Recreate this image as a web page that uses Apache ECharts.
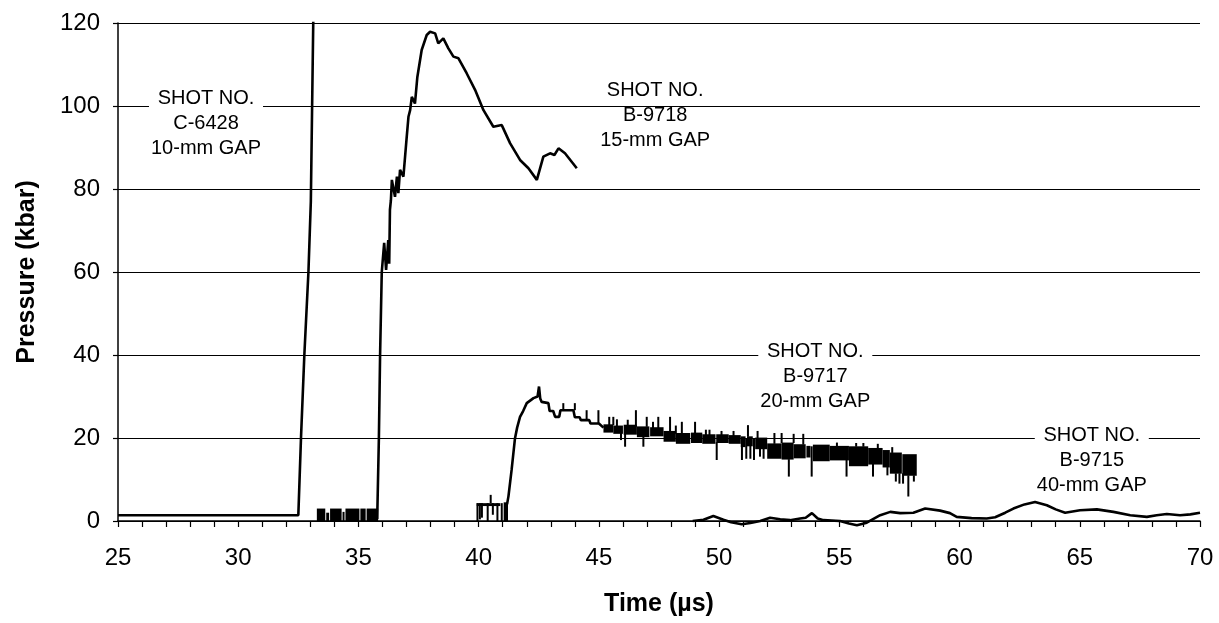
<!DOCTYPE html>
<html lang="en">
<head>
<meta charset="utf-8">
<title>Pressure records</title>
<script src="https://cdn.jsdelivr.net/npm/echarts@6/dist/echarts.min.js"></script>
<style>
  html, body { margin: 0; background: #fff; }
  #main { width: 1219px; height: 623px; }
</style>
</head>
<body>
<div id="main"></div>
<script>
// gauge records: [time (us), pressure (kbar)]
var shotC6428 = [[25, 1.4], [32.5, 1.4], [32.61, 19.9], [32.75, 40], [32.92, 60], [33.02, 77], [33.12, 120], [33.14, 126]];

var shotB9718 = [[35.78, 0.5], [35.85, 20], [35.9, 40], [35.97, 60], [36.07, 67], [36.15, 60.5], [36.24, 67.7],
    [36.28, 62], [36.31, 75], [36.35, 77.3], [36.39, 82.2], [36.52, 78.1], [36.6, 83], [36.66, 79], [36.73, 84.6],
    [36.87, 83], [37.0, 92], [37.08, 97.4], [37.15, 99], [37.22, 102.2], [37.35, 100.6], [37.45, 107], [37.63, 113.5],
    [37.84, 117.1], [37.98, 117.9], [38.19, 117.5], [38.32, 115.1], [38.53, 116.3], [38.74, 113.9], [38.95, 111.9],
    [39.16, 111.5], [39.5, 107.9], [39.85, 103.9], [40.2, 99], [40.61, 95], [40.96, 95.4], [41.31, 91], [41.72, 87],
    [42.07, 85], [42.42, 82.2], [42.69, 87.8], [42.97, 88.6], [43.15, 88.2], [43.32, 89.8], [43.59, 88.6], [44.08, 85]];

var shotB9717 = [[41.18, 4], [41.24, 6], [41.37, 12.3], [41.51, 19.9], [41.6, 22.5], [41.72, 25.1], [41.85, 26.5],
    [42.0, 28.4], [42.28, 29.6], [42.45, 30], [42.51, 32.4], [42.56, 29.5], [42.62, 28.7], [42.9, 28.4], [42.95, 26.5],
    [43.1, 26.5], [43.18, 25.1], [43.35, 25.1], [43.4, 26.7], [43.94, 26.7], [44.0, 25], [44.2, 25], [44.25, 24.3],
    [44.6, 24.3], [44.65, 23.5], [45.0, 23.5], [45.19, 22.5]];

var shotB9715 = [[48.9, 0], [49.35, 0.3], [49.76, 1.2], [50.18, 0.3], [50.5, -0.3], [50.94, -0.8], [51.3, -0.5],
    [51.71, 0], [52.12, 0.8], [52.54, 0.4], [52.95, 0.2], [53.37, 0.6], [53.6, 0.8], [53.86, 1.9], [54.1, 0.6],
    [54.34, 0.2], [55.03, 0], [55.4, -0.6], [55.73, -1.0], [56.14, -0.4], [56.7, 1.4], [57.12, 2.2], [57.53, 1.9],
    [58.08, 2.0], [58.57, 3.0], [59.19, 2.5], [59.6, 1.9], [59.88, 1.0], [60.5, 0.7], [61.13, 0.6], [61.48, 0.9],
    [61.9, 2.0], [62.24, 3.0], [62.7, 4.0], [63.14, 4.6], [63.63, 3.8], [64.0, 2.8], [64.39, 2.0], [65.01, 2.6],
    [65.71, 2.8], [66.4, 2.2], [67.1, 1.4], [67.79, 1.0], [68.2, 1.4], [68.62, 1.7], [69.17, 1.4], [69.6, 1.6], [70.0, 2.0]];

// noisy stretches of the records: [t start, t end, low, high]
var noiseBlocks = [
    // B-9718 before arrival
    [33.27, 33.62, 0, 3.0], [33.66, 33.78, 0, 2.0], [33.82, 34.3, 0, 3.0], [34.34, 34.42, 0, 2.2],
    [34.46, 35.04, 0, 3.0], [35.08, 35.3, 0, 3.0], [35.34, 35.82, 0, 3.0],
    // B-9717 before arrival
    [39.92, 40.9, 3.6, 4.3], [39.92, 39.98, 0, 4.3], [40.03, 40.07, 0.4, 4.3], [40.12, 40.15, 0.8, 4.3],
    [40.34, 40.41, 0, 4.3], [40.5, 40.5, 4.3, 6.3], [40.58, 40.6, 1.5, 4.3], [40.74, 40.82, 0, 4.3],
    [40.92, 41.0, 0, 4.3], [41.04, 41.22, 0, 4.5],
    // B-9717 plateau
    [45.19, 45.6, 21.3, 23.3], [45.6, 46.0, 21.0, 23.0], [46.03, 46.58, 20.8, 23.2], [46.58, 47.1, 20.2, 22.8],
    [47.13, 47.69, 20.4, 22.6], [47.69, 48.2, 19.1, 21.7], [48.2, 48.8, 18.6, 21.2], [48.83, 49.3, 18.8, 21.3],
    [49.3, 49.85, 18.6, 20.9], [49.88, 50.4, 18.8, 20.9], [50.4, 50.9, 18.6, 20.7], [50.9, 51.1, 17.8, 20.4],
    [51.16, 51.4, 18.0, 20.4], [51.5, 52.0, 17.3, 20.1], [52.0, 52.6, 15.0, 18.7], [52.6, 53.1, 14.8, 18.9],
    [53.1, 53.6, 15.1, 18.5], [53.63, 53.8, 15.3, 18.1], [53.9, 54.6, 14.4, 18.4], [54.6, 55.4, 14.6, 18.1],
    [55.4, 56.2, 13.2, 18.0], [56.2, 56.8, 13.6, 17.6], [56.8, 57.1, 12.9, 17.1], [57.1, 57.6, 11.4, 16.5],
    [57.62, 58.22, 10.9, 16.1]
];

// single spikes on the B-9717 record: [t, t, low, high]
var noiseSpikes = [
    [43.52, 43.52, 26.7, 28.4], [44.0, 44.0, 26.7, 28.4], [44.49, 44.49, 24.3, 26.7], [44.98, 44.98, 23.5, 26.7],
    [45.43, 45.43, 23.1, 25.1], [45.6, 45.6, 23.1, 25.1], [45.75, 45.75, 22.8, 24.5], [46.2, 46.2, 23.1, 24.4],
    [46.54, 46.54, 22.7, 26.7], [46.99, 46.99, 22.7, 25.1], [47.25, 47.25, 22.4, 23.9], [47.47, 47.47, 22.4, 25.1],
    [47.96, 47.96, 21.5, 25.1], [48.2, 48.2, 21.0, 23.0], [48.45, 48.45, 21.0, 23.9], [49.0, 49.0, 21.2, 23.9],
    [49.45, 49.45, 20.7, 22.0], [49.6, 49.6, 20.7, 22.0], [50.1, 50.1, 20.7, 21.7], [50.6, 50.6, 20.5, 21.7],
    [51.2, 51.2, 20.3, 23.1], [51.6, 51.6, 20.0, 21.7], [52.3, 52.3, 18.6, 21.2], [52.6, 52.6, 18.8, 21.2],
    [53.1, 53.1, 18.8, 21.0], [53.5, 53.5, 18.4, 21.0], [54.9, 54.9, 18.0, 18.9], [55.7, 55.7, 17.9, 18.8],
    [56.0, 56.0, 17.9, 18.8], [56.6, 56.6, 17.5, 18.6], [57.2, 57.2, 16.4, 17.8],
    [45.92, 45.92, 19.5, 21.2], [46.09, 46.09, 17.9, 21.0], [46.85, 46.85, 17.9, 20.3], [49.9, 49.9, 14.7, 19.0],
    [50.95, 50.95, 14.7, 18.0], [51.13, 51.13, 15.0, 20.0], [51.3, 51.3, 15.0, 18.2], [51.45, 51.45, 14.7, 20.0],
    [51.7, 51.7, 15.5, 17.5], [51.85, 51.85, 15.0, 17.5], [52.9, 52.9, 10.7, 14.9], [53.85, 53.85, 10.7, 18.0],
    [55.3, 55.3, 10.7, 14.8], [56.4, 56.4, 10.7, 13.8], [57.0, 57.0, 11.0, 13.0], [57.35, 57.35, 9.5, 11.5],
    [57.5, 57.5, 9.0, 11.5], [57.65, 57.65, 9.0, 11.5], [57.87, 57.87, 5.9, 11.0], [58.1, 58.1, 9.5, 11.0]
];

var noteX = [28.66, 47.34, 54.0, 65.5];
var noteY = [95.9, 97.8, 34.9, 14.7];
var noteText = ['SHOT NO.\nC-6428\n10-mm GAP', 'SHOT NO.\nB-9718\n15-mm GAP',
    'SHOT NO.\nB-9717\n20-mm GAP', 'SHOT NO.\nB-9715\n40-mm GAP'];

var font = 'Liberation Sans, Arial, sans-serif';
// the B-9718 note sits clear of the gridline, the others blank it out under "SHOT NO."
var noteFill = ['#fff', 'transparent', '#fff', '#fff'];

function drawBlock(params, api) {
    var a = api.coord([api.value(0), api.value(3)]);
    var b = api.coord([api.value(1), api.value(2)]);
    var x = a[0], w = b[0] - a[0];
    if (w < 2) { x = (a[0] + b[0]) / 2 - 1; w = 2; }
    return {
        type: 'rect',
        shape: { x: x, y: a[1], width: w, height: b[1] - a[1] },
        style: { fill: '#000' }
    };
}

function trace(data, clip) {
    return {
        type: 'line',
        data: data,
        symbol: 'none',
        clip: clip,
        lineStyle: { color: '#000', width: 2.6 },
        z: 3
    };
}

var myChart = echarts.init(document.getElementById('main'));

myChart.setOption({
    animation: false,
    backgroundColor: '#fff',
    grid: { left: 118, right: 19, top: 23, bottom: 102 },
    xAxis: {
        type: 'value',
        min: 25, max: 70, interval: 5,
        name: 'Time (µs)',
        nameLocation: 'middle',
        nameGap: 71,
        nameTextStyle: { fontFamily: font, fontSize: 25, fontWeight: 'bold', color: '#000' },
        axisLine: { lineStyle: { color: '#000', width: 1.5 } },
        axisTick: { show: true, length: 6, lineStyle: { color: '#000', width: 1.2 } },
        minorTick: { show: true, splitNumber: 5, length: 6, lineStyle: { color: '#000', width: 1.2 } },
        axisLabel: { fontFamily: font, fontSize: 24, color: '#000', margin: 25 },
        splitLine: { show: false }
    },
    yAxis: {
        type: 'value',
        min: 0, max: 120, interval: 20,
        name: 'Pressure (kbar)',
        nameLocation: 'middle',
        nameGap: 78,
        nameTextStyle: { fontFamily: font, fontSize: 25, fontWeight: 'bold', color: '#000' },
        axisLine: { show: true, lineStyle: { color: '#000', width: 1.5 } },
        axisTick: { show: true, length: 5, lineStyle: { color: '#000', width: 1.2 } },
        axisLabel: { fontFamily: font, fontSize: 24, color: '#000', margin: 18 },
        splitLine: { show: true, lineStyle: { color: '#000', width: 1.2 } }
    },
    series: [
        trace(shotC6428, true),
        trace(shotB9718, true),
        trace(shotB9717, true),
        trace(shotB9715, false),
        {
            type: 'custom',
            renderItem: drawBlock,
            data: noiseBlocks.concat(noiseSpikes),
            encode: { x: [0, 1], y: [2, 3] },
            z: 3
        },
        {
            type: 'scatter',
            symbolSize: 0,
            data: noteX.map(function (x, i) {
                return { value: [x, noteY[i]], label: { backgroundColor: noteFill[i] } };
            }),
            z: 4,
            itemStyle: { opacity: 1 },
            label: {
                show: true,
                position: 'inside',
                formatter: function (p) { return noteText[p.dataIndex]; },
                fontFamily: font,
                fontSize: 20,
                lineHeight: 25,
                color: '#000',
                opacity: 1,
                textBorderWidth: 0,
                padding: [0, 2]
            }
        }
    ]
});
</script>
</body>
</html>
